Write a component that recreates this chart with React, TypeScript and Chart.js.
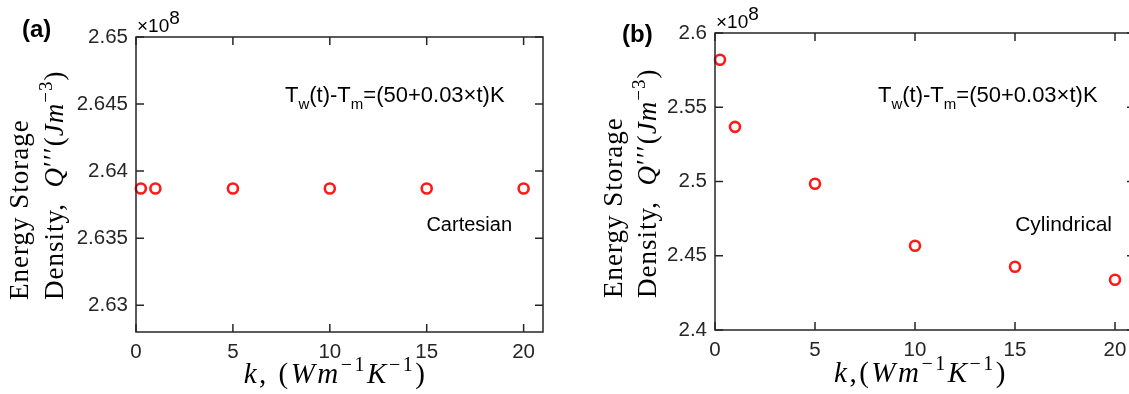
import React, { useEffect, useRef } from "react";
import { Chart, registerables } from "chart.js";

Chart.register(...registerables);

// ---- data (values shown in units of 10^8 J m^-3) ----
const kValuesA = [0.25, 1, 5, 10, 15, 20];
const qValuesA = [2.6387, 2.6387, 2.6387, 2.6387, 2.6387, 2.6387];
const kValuesB = [0.25, 1, 5, 10, 15, 20];
const qValuesB = [2.582, 2.5368, 2.4985, 2.4567, 2.4426, 2.4338];
const xTicks = [0, 5, 10, 15, 20];
const yTicksA = [2.63, 2.635, 2.64, 2.645, 2.65];
const yTicksB = [2.4, 2.45, 2.5, 2.55, 2.6];

const AXIS = "#262626";
const SANS = '"Liberation Sans", Arial, sans-serif';
const SERIF = '"Liberation Serif", "DejaVu Serif", serif';
const TICK_LEN = 8;

type Seg = { t: string; it?: boolean; b?: boolean; sup?: boolean; sub?: boolean; dy?: number; size?: number };

function drawRich(
  ctx: CanvasRenderingContext2D,
  segs: Seg[],
  x: number,
  y: number,
  size: number,
  family: string,
  align: "left" | "center" | "right",
  rotate = false,
  spacing = 0
) {
  const fontFor = (s: Seg) =>
    `${s.it ? "italic " : ""}${s.b ? "bold " : ""}${s.size ? s.size : s.sup || s.sub ? Math.round(size * 0.7) : size}px ${family}`;
  const c: any = ctx;
  ctx.save();
  c.letterSpacing = spacing + "px";
  let total = 0;
  const ws = segs.map((s) => {
    ctx.font = fontFor(s);
    const w = ctx.measureText(s.t).width;
    total += w;
    return w;
  });
  ctx.translate(x, y);
  if (rotate) ctx.rotate(-Math.PI / 2);
  let cx = align === "center" ? -total / 2 : align === "right" ? -total : 0;
  ctx.textBaseline = "alphabetic";
  ctx.textAlign = "left";
  ctx.fillStyle = "#000";
  segs.forEach((s, i) => {
    ctx.font = fontFor(s);
    const dy = (s.sup ? -size * 0.42 : s.sub ? size * 0.3 : 0) + (s.dy || 0);
    ctx.fillText(s.t, cx, dy);
    cx += ws[i];
  });
  ctx.restore();
}

type PanelSpec = {
  label: string;
  labelX: number;
  labelY: number;
  expX: number;
  expY: number;
  annX: number;
  annY: number;
  kind: string;
  kindSize: number;
  kindRight: number;
  kindY: number;
  yl1X: number;
  yl2X: number;
  ylY: number;
  xlY: number;
  xlSpace: string;
};

function makeFramePlugin(spec: PanelSpec) {
  return {
    id: "frame",
    afterDraw(chart: any) {
      const { ctx, chartArea: a, scales } = chart;
      const xs = scales.x;
      const ys = scales.y;
      ctx.save();
      ctx.strokeStyle = AXIS;
      ctx.lineWidth = 1.5;
      ctx.strokeRect(a.left, a.top, a.right - a.left, a.bottom - a.top);
      ctx.beginPath();
      xs.ticks.forEach((t: any) => {
        const px = xs.getPixelForValue(t.value);
        ctx.moveTo(px, a.bottom);
        ctx.lineTo(px, a.bottom - TICK_LEN);
        ctx.moveTo(px, a.top);
        ctx.lineTo(px, a.top + TICK_LEN);
      });
      ys.ticks.forEach((t: any) => {
        const py = ys.getPixelForValue(t.value);
        ctx.moveTo(a.left, py);
        ctx.lineTo(a.left + TICK_LEN, py);
        ctx.moveTo(a.right, py);
        ctx.lineTo(a.right - TICK_LEN, py);
      });
      ctx.stroke();
      ctx.restore();

      // panel label
      drawRich(ctx, [{ t: spec.label, b: true }], spec.labelX, spec.labelY, 24, SANS, "left");
      // exponent
      drawRich(ctx, [{ t: "×10" }, { t: "8", dy: -8, size: 19 }], spec.expX, spec.expY, 19, SANS, "left");
      // annotation
      drawRich(
        ctx,
        [{ t: "T" }, { t: "w", sub: true }, { t: "(t)-T" }, { t: "m", sub: true }, { t: "=(50+0.03×t)K" }],
        spec.annX,
        spec.annY,
        22,
        SANS,
        "left"
      );
      drawRich(ctx, [{ t: spec.kind }], spec.kindRight, spec.kindY, spec.kindSize, SANS, "right");
      // y label (two lines, rotated)
      drawRich(ctx, [{ t: "Energy Storage" }], spec.yl1X, spec.ylY, 27, SERIF, "left", true, 1);
      drawRich(
        ctx,
        [
          { t: "Density,  " },
          { t: "Q", it: true },
          { t: "′′′", dy: -1 },
          { t: "(" },
          { t: "J", it: true },
          { t: "m", it: true },
          { t: "−3", sup: true },
          { t: ")" },
        ],
        spec.yl2X,
        spec.ylY,
        27,
        SERIF,
        "left",
        true,
        1
      );
      // x label
      drawRich(
        ctx,
        [
          { t: "k", it: true },
          { t: "," + spec.xlSpace + "(" },
          { t: "W", it: true },
          { t: "m", it: true },
          { t: "−1", sup: true },
          { t: "K", it: true },
          { t: "−1", sup: true },
          { t: ")" },
        ],
        (a.left + a.right) / 2 - 4,
        spec.xlY,
        29,
        SERIF,
        "center",
        false,
        2.5
      );
    },
  };
}

function makeConfig(
  ks: number[],
  qs: number[],
  yTicks: number[],
  yMin: number,
  yMax: number,
  padding: { left: number; right: number; top: number; bottom: number },
  spec: PanelSpec
): any {
  return {
    type: "scatter",
    data: {
      datasets: [
        {
          data: ks.map((k, i) => ({ x: k, y: qs[i] })),
          pointStyle: "circle",
          pointRadius: 5,
          pointHoverRadius: 5,
          borderWidth: 2.6,
          borderColor: "#ff1a1a",
          backgroundColor: "rgba(255,255,255,0)",
          showLine: false,
          clip: false,
        },
      ],
    },
    options: {
      responsive: false,
      animation: false,
      devicePixelRatio: 1,
      layout: { padding },
      plugins: { legend: { display: false }, tooltip: { enabled: false } },
      scales: {
        x: {
          type: "linear",
          min: 0,
          max: 21,
          afterBuildTicks: (s: any) => {
            s.ticks = xTicks.map((v) => ({ value: v }));
          },
          afterFit: (s: any) => {
            s.height = 40;
          },
          grid: { display: false, drawTicks: false },
          border: { display: false },
          ticks: {
            autoSkip: false,
            maxRotation: 0,
            padding: 8,
            color: AXIS,
            font: { family: SANS, size: 20.5 },
            callback: (v: number) => String(v),
          },
        },
        y: {
          type: "linear",
          min: yMin,
          max: yMax,
          afterBuildTicks: (s: any) => {
            s.ticks = yTicks.map((v) => ({ value: v }));
          },
          afterFit: (s: any) => {
            s.width = 60;
          },
          grid: { display: false, drawTicks: false },
          border: { display: false },
          ticks: {
            autoSkip: false,
            padding: 8,
            color: AXIS,
            font: { family: SANS, size: 20.5 },
            callback: (v: number) => String(v),
          },
        },
      },
    },
    plugins: [makeFramePlugin(spec)],
  };
}

function Panel(props: { left: number; width: number; config: any }) {
  const ref = useRef<HTMLCanvasElement | null>(null);
  useEffect(() => {
    if (!ref.current) return;
    const chart = new Chart(ref.current, props.config);
    return () => chart.destroy();
  }, []);
  return (
    <div style={{ position: "absolute", left: props.left, top: 0, width: props.width, height: 394 }}>
      <canvas ref={ref} width={props.width} height={394} style={{ display: "block" }} />
    </div>
  );
}

const specA: PanelSpec = {
  label: "(a)",
  labelX: 22,
  labelY: 37,
  expX: 137,
  expY: 32,
  annX: 285,
  annY: 102,
  kind: "Cartesian",
  kindSize: 20,
  kindRight: 512,
  kindY: 231,
  yl1X: 28,
  yl2X: 63,
  ylY: 300,
  xlY: 383,
  xlSpace: " ",
};

const specB: PanelSpec = {
  label: "(b)",
  labelX: 58,
  labelY: 42,
  expX: 152,
  expY: 28,
  annX: 314,
  annY: 102,
  kind: "Cylindrical",
  kindSize: 21,
  kindRight: 548,
  kindY: 231,
  yl1X: 58,
  yl2X: 92,
  ylY: 298,
  xlY: 382,
  xlSpace: "",
};

const configA = makeConfig(kValuesA, qValuesA, yTicksA, 2.628, 2.65, { left: 76, right: 21, top: 37, bottom: 22 }, specA);
const configB = makeConfig(kValuesB, qValuesB, yTicksB, 2.4, 2.6, { left: 91, right: 29, top: 33, bottom: 24 }, specB);

export default function App() {
  return (
    <div
      style={{
        position: "fixed",
        left: 0,
        top: 0,
        width: 1129,
        height: 394,
        overflow: "hidden",
        background: "#fff",
      }}
    >
      <Panel left={0} width={564} config={configA} />
      <Panel left={564} width={600} config={configB} />
    </div>
  );
}
